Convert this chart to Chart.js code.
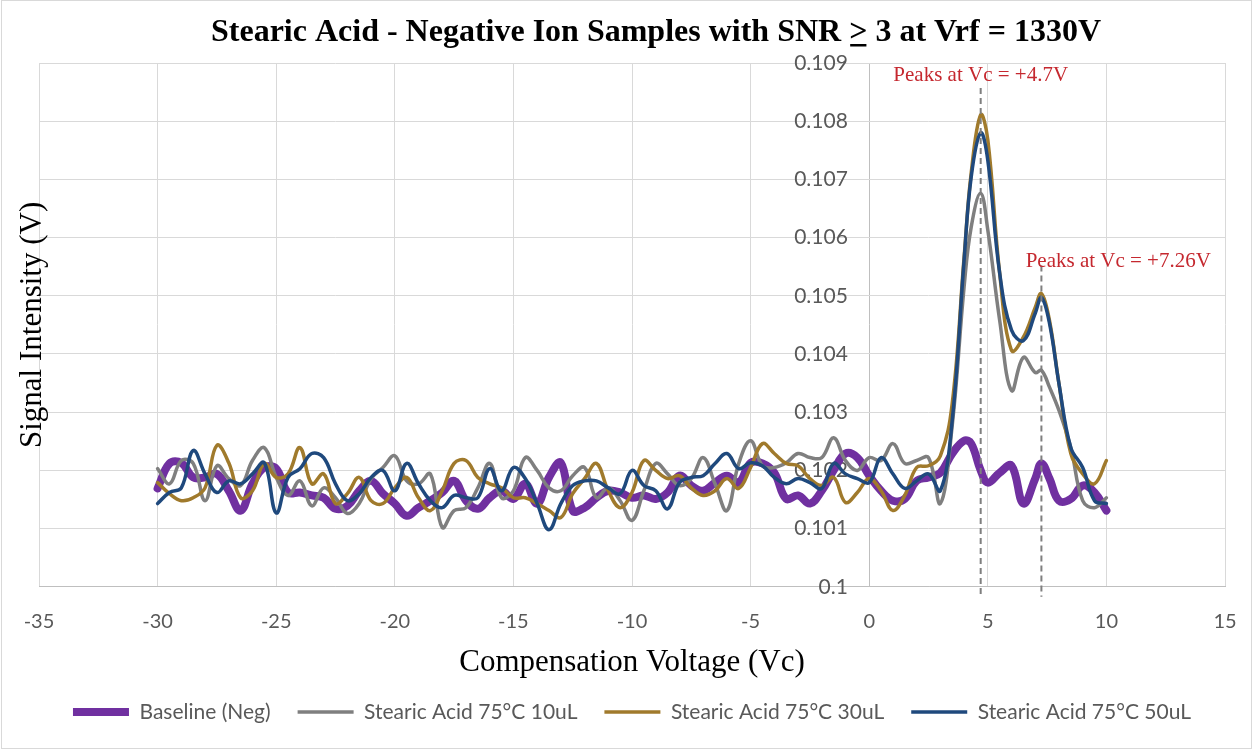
<!DOCTYPE html>
<html>
<head>
<meta charset="utf-8">
<script src="https://cdn.jsdelivr.net/npm/chart.js@4.4.0/dist/chart.umd.min.js"></script>
<style>
  html, body { margin: 0; padding: 0; background: #fff; }
  #wrap { position: relative; width: 1253px; height: 749px; }
</style>
</head>
<body>
<div id="wrap"><canvas id="chart" width="1253" height="749"></canvas></div>
<script>
// compensation voltage (V) shared by every trace
const compensationVoltage = [
  -30, -29.5, -29, -28.5, -28, -27.5, -27, -26.5, -26, -25.5, -25, -24.5, -24, -23.5, -23, -22.5,
  -22, -21.5, -21, -20.5, -20, -19.5, -19, -18.5, -18, -17.5, -17, -16.5, -16, -15.5, -15, -14.5,
  -14, -13.5, -13, -12.5, -12, -11.5, -11, -10.5, -10, -9.5, -9, -8.5, -8, -7.5, -7, -6.5,
  -6, -5.5, -5, -4.5, -4, -3.5, -3, -2.5, -2, -1.5, -1, -0.5, 0, 0.5, 1, 1.5,
  2, 2.5, 3, 3.5, 4, 4.3, 4.7, 5, 5.5, 6, 6.5, 7, 7.26, 7.6, 8, 8.5, 9, 9.5, 10
];

const baselineNeg = [
  0.10169, 0.10212, 0.10213, 0.10188, 0.10188, 0.10194, 0.10165, 0.10131, 0.10177, 0.10205, 0.10203, 0.10162, 0.10162, 0.10157, 0.10153, 0.10134,
  0.10139, 0.10165, 0.10182, 0.10160, 0.10143, 0.10122, 0.10136, 0.10148, 0.10162, 0.10182, 0.10148, 0.10134, 0.10153, 0.10165, 0.10151, 0.10177,
  0.10143, 0.10188, 0.10213, 0.10131, 0.10136, 0.10153, 0.10165, 0.10162, 0.10153, 0.10157, 0.10151, 0.10162, 0.10191, 0.10174, 0.10165, 0.10179,
  0.10191, 0.10179, 0.10213, 0.10212, 0.10196, 0.10151, 0.10157, 0.10143, 0.10165, 0.10200, 0.10229, 0.10222, 0.10191, 0.10165, 0.10148, 0.10151,
  0.10182, 0.10188, 0.10196, 0.10229, 0.10251, 0.10246, 0.10200, 0.10179, 0.10196, 0.10208, 0.10143, 0.10186, 0.10212, 0.10186, 0.10148, 0.10151, 0.10174, 0.10162, 0.10131
];

const stearic10uL = [
  0.10203, 0.10177, 0.10217, 0.10212, 0.10148, 0.10208, 0.10186, 0.10174, 0.10217, 0.10239, 0.10188, 0.10157, 0.10182, 0.10139, 0.10170, 0.10153,
  0.10126, 0.10143, 0.10186, 0.10205, 0.10225, 0.10182, 0.10177, 0.10194, 0.10102, 0.10131, 0.10136, 0.10170, 0.10212, 0.10153, 0.10165, 0.10222,
  0.10200, 0.10170, 0.10165, 0.10191, 0.10205, 0.10153, 0.10170, 0.10148, 0.10114, 0.10165, 0.10212, 0.10194, 0.10174, 0.10186, 0.10222, 0.10177,
  0.10131, 0.10212, 0.10251, 0.10208, 0.10205, 0.10213, 0.10229, 0.10222, 0.10222, 0.10256, 0.10217, 0.10200, 0.10222, 0.10217, 0.10246, 0.10212,
  0.10217, 0.10222, 0.10143, 0.10277, 0.10515, 0.10618, 0.10676, 0.10613, 0.10458, 0.10337, 0.10394, 0.10368, 0.10372, 0.10343, 0.10303, 0.10239, 0.10148, 0.10136, 0.10153
];

const stearic30uL = [
  0.10179, 0.10160, 0.10148, 0.10153, 0.10170, 0.10243, 0.10213, 0.10153, 0.10165, 0.10212, 0.10188, 0.10194, 0.10239, 0.10177, 0.10194, 0.10143,
  0.10160, 0.10188, 0.10148, 0.10143, 0.10170, 0.10188, 0.10153, 0.10131, 0.10165, 0.10212, 0.10217, 0.10188, 0.10177, 0.10170, 0.10153, 0.10153,
  0.10143, 0.10131, 0.10119, 0.10160, 0.10186, 0.10212, 0.10165, 0.10136, 0.10162, 0.10217, 0.10200, 0.10186, 0.10191, 0.10170, 0.10157, 0.10165,
  0.10186, 0.10169, 0.10205, 0.10246, 0.10229, 0.10212, 0.10208, 0.10186, 0.10174, 0.10188, 0.10145, 0.10162, 0.10186, 0.10165, 0.10131, 0.10157,
  0.10205, 0.10208, 0.10225, 0.10315, 0.10566, 0.10711, 0.10811, 0.10768, 0.10539, 0.10406, 0.10429, 0.10480, 0.10504, 0.10458, 0.10349, 0.10229, 0.10194, 0.10177, 0.10217
];

const stearic50uL = [
  0.10143, 0.10162, 0.10170, 0.10234, 0.10194, 0.10162, 0.10182, 0.10177, 0.10194, 0.10213, 0.10127, 0.10188, 0.10203, 0.10229, 0.10222, 0.10177,
  0.10148, 0.10160, 0.10188, 0.10200, 0.10165, 0.10212, 0.10177, 0.10148, 0.10136, 0.10157, 0.10153, 0.10153, 0.10203, 0.10165, 0.10205, 0.10186,
  0.10143, 0.10098, 0.10143, 0.10174, 0.10182, 0.10182, 0.10170, 0.10160, 0.10200, 0.10174, 0.10165, 0.10134, 0.10179, 0.10188, 0.10191, 0.10212,
  0.10229, 0.10203, 0.10213, 0.10208, 0.10188, 0.10177, 0.10186, 0.10179, 0.10169, 0.10212, 0.10194, 0.10186, 0.10179, 0.10222, 0.10194, 0.10169,
  0.10182, 0.10194, 0.10165, 0.10286, 0.10561, 0.10704, 0.10780, 0.10733, 0.10539, 0.10441, 0.10423, 0.10470, 0.10497, 0.10453, 0.10349, 0.10239, 0.10205, 0.10148, 0.10143
];

const seriesNames = ['Baseline (Neg)', 'Stearic Acid 75\u00B0C 10uL', 'Stearic Acid 75\u00B0C 30uL', 'Stearic Acid 75\u00B0C 50uL'];
const seriesValues = [baselineNeg, stearic10uL, stearic30uL, stearic50uL];

// peak callouts (Vc of the peak and its label)
const peakVc = [4.7, 7.26];
const peakLabels = ['Peaks at Vc = +4.7V', 'Peaks at Vc = +7.26V'];

const styles = [
  { color: '#7030A0', width: 8, order: 4 },
  { color: '#7F7F7F', width: 3.5, order: 3 },
  { color: '#A07A2C', width: 3.5, order: 2 },
  { color: '#1F497D', width: 3.5, order: 1 }
];
// where the callout text and the top of each dashed line sit (value space)
const calloutLayout = [
  { textX: 4.7, textY: 0.10878, lineTop: 0.10857 },
  { textX: 10.5, textY: 0.10559, lineTop: 0.10552 }
];

const SERIF = '"Liberation Serif", "Times New Roman", serif';
const SANS = 'Lato, "Open Sans", sans-serif';
const TICK_GREY = '#595959';

const decorations = {
  id: 'decorations',
  beforeDraw(chart) {
    const ctx = chart.ctx;
    ctx.save();
    ctx.fillStyle = '#ffffff';
    ctx.fillRect(0, 0, chart.width, chart.height);
    ctx.strokeStyle = '#D9D9D9';
    ctx.lineWidth = 1;
    ctx.strokeRect(1.5, 0.5, chart.width - 3, chart.height - 1);
    ctx.restore();
  },
  afterDatasetsDraw(chart) {
    const ctx = chart.ctx;
    const xs = chart.scales.x, ys = chart.scales.y;
    ctx.save();
    // dashed drop lines at the peaks
    ctx.strokeStyle = '#7F7F7F';
    ctx.lineWidth = 2;
    ctx.setLineDash([6, 4]);
    peakVc.forEach((vc, i) => {
      const px = xs.getPixelForValue(vc);
      ctx.beginPath();
      ctx.moveTo(px, ys.getPixelForValue(calloutLayout[i].lineTop));
      ctx.lineTo(px, ys.bottom + 10);
      ctx.stroke();
    });
    ctx.setLineDash([]);

    // callout labels
    ctx.fillStyle = '#C5282F';
    ctx.font = '21px ' + SERIF;
    ctx.textAlign = 'center';
    ctx.textBaseline = 'middle';
    peakLabels.forEach((txt, i) => {
      ctx.fillText(txt, xs.getPixelForValue(calloutLayout[i].textX), ys.getPixelForValue(calloutLayout[i].textY));
    });

    // chart title, with the underlined ">" standing for "greater or equal"
    const parts = ['Stearic Acid - Negative Ion Samples with SNR ', '>', ' 3 at Vrf = 1330V'];
    ctx.font = 'bold 32px ' + SERIF;
    ctx.fillStyle = '#000000';
    ctx.textAlign = 'left';
    ctx.textBaseline = 'alphabetic';
    const widths = parts.map(p => ctx.measureText(p).width);
    const total = widths.reduce((a, b) => a + b, 0);
    let x = 656 - total / 2;
    const base = 41;
    parts.forEach((p, i) => {
      ctx.fillText(p, x, base);
      if (i === 1) {
        ctx.fillRect(x + 1, base + 3, widths[i] - 2, 2.5);
      }
      x += widths[i];
    });

    // y axis title
    ctx.save();
    ctx.translate(33, (chart.chartArea.top + chart.chartArea.bottom) / 2);
    ctx.rotate(-Math.PI / 2);
    ctx.font = '31px ' + SERIF;
    ctx.textAlign = 'center';
    ctx.textBaseline = 'middle';
    ctx.fillText('Signal Intensity (V)', 0, 0);
    ctx.restore();
    ctx.restore();
  }
};

const datasets = seriesValues.map((vals, i) => ({
  label: seriesNames[i],
  data: compensationVoltage.map((vc, k) => ({ x: vc, y: vals[k] })),
  borderColor: styles[i].color,
  backgroundColor: styles[i].color,
  borderWidth: styles[i].width,
  borderCapStyle: 'round',
  borderJoinStyle: 'round',
  pointRadius: 0,
  pointHoverRadius: 0,
  tension: 0.4,
  fill: false,
  order: styles[i].order
}));

new Chart(document.getElementById('chart'), {
  type: 'line',
  data: { datasets },
  options: {
    responsive: false,
    animation: false,
    devicePixelRatio: 1,
    layout: { padding: { left: 39, right: 28, top: 63, bottom: 16.5 } },
    scales: {
      x: {
        type: 'linear',
        min: -35,
        max: 15,
        // small padding + tall line box: keeps the labels low without widening the side margins
        ticks: { stepSize: 5, color: TICK_GREY, font: { family: SANS, size: 20, lineHeight: 3.2 }, padding: 3, maxRotation: 0 },
        grid: {
          // the Vc = 0 line doubles as the value axis, a touch darker
          color: c => (c.tick && c.tick.value === 0 ? '#BFBFBF' : '#D9D9D9'),
          drawTicks: false
        },
        border: { color: '#BFBFBF', width: 1 },
        title: {
          display: true,
          text: 'Compensation Voltage (Vc)',
          color: '#000000',
          font: { family: SERIF, size: 31 },
          padding: { top: -12.4, bottom: -7.1 }
        }
      },
      y: {
        type: 'linear',
        // labels hang just left of the Vc = 0 line
        position: { x: -0.9 },
        min: 0.1,
        max: 0.109,
        // the axis sits inside the plot, so it should not take layout room
        afterFit(scale) {
          scale.width = 0;
          scale.paddingTop = 0;
          scale.paddingBottom = 0;
        },
        ticks: {
          stepSize: 0.001,
          color: TICK_GREY,
          font: { family: SANS, size: 21 },
          padding: 0,
          callback: v => String(+v.toFixed(3))
        },
        grid: { color: '#D9D9D9', drawTicks: false },
        border: { display: false }
      }
    },
    plugins: {
      title: { display: false },
      tooltip: { enabled: false },
      legend: {
        position: 'bottom',
        labels: {
          usePointStyle: true,
          pointStyle: 'line',
          pointStyleWidth: 56,
          color: TICK_GREY,
          font: { family: SANS, size: 21 },
          padding: 27,
          sort: (a, b) => a.datasetIndex - b.datasetIndex
        }
      }
    }
  },
  plugins: [decorations]
});
</script>
</body>
</html>
